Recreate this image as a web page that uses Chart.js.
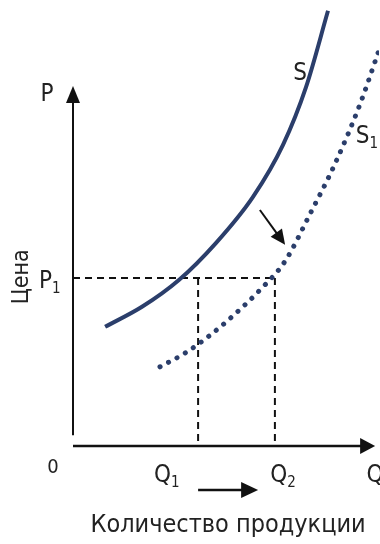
<!DOCTYPE html>
<html>
<head>
<meta charset="utf-8">
<script src="https://cdn.jsdelivr.net/npm/chart.js@4"></script>
<style>
  html, body { margin: 0; padding: 0; background: #fff; }
  #wrap { width: 380px; height: 544px; }
</style>
</head>
<body>
<div id="wrap"><canvas id="myChart"></canvas></div>
<script>
const ctx = document.getElementById('myChart').getContext('2d');

// Supply curve S (quantity, price)
const sQ = [1.07, 2.3, 3.53, 4.77, 6.0, 7.0, 7.77, 8.5];
const sP = [2.98, 3.48, 4.15, 5.08, 6.23, 7.53, 8.98, 10.88];

// Shifted supply curve S1
const s1Q = [2.9, 3.73, 4.57, 5.4, 6.23, 7.07, 7.9, 8.73, 9.57, 10.17];
const s1P = [1.98, 2.32, 2.77, 3.3, 3.9, 4.62, 5.8, 7.05, 8.55, 9.83];

// Price level P1 and the two quantities
const p1 = 4.2;
const q1 = 4.17;
const q2 = 6.73;

// Axis ends (arrow tips)
const qAxisEnd = 10.07;
const pAxisEnd = 9.0;

// Arrows: [fromQ, fromP, toQ, toP]
const shiftArrow = [6.23, 5.9, 7.07, 5.03];
const qArrow = [4.17, -1.1, 6.17, -1.1];

// Text labels: text, subscript, q, p
const labelText = ['P', 'P', '0', 'Q', 'Q', 'Q', 'S', 'S'];
const labelSub = ['', '1', '', '1', '2', '', '', '1'];
const labelQ = [-0.87, -0.77, -0.67, 3.13, 7.0, 10.07, 7.57, 9.8];
const labelP = [8.78, 4.1, -0.55, -0.75, -0.75, -0.75, 9.3, 7.73];

const priceTitle = 'Цена';
const qtyTitle = 'Количество продукции';

const navy = '#2b3e6b';
const FONT = '"DejaVu Sans Condensed", "Liberation Sans Narrow", sans-serif';

const toXY = (qs, ps) => qs.map((q, i) => ({ x: q, y: ps[i] }));

function arrow(c, x1, y1, x2, y2, len, half) {
    const a = Math.atan2(y2 - y1, x2 - x1);
    c.beginPath();
    c.moveTo(x1, y1);
    c.lineTo(x2 - Math.cos(a) * len * 0.8, y2 - Math.sin(a) * len * 0.8);
    c.stroke();
    c.beginPath();
    c.moveTo(x2, y2);
    c.lineTo(x2 - Math.cos(a) * len - Math.sin(a) * half, y2 - Math.sin(a) * len + Math.cos(a) * half);
    c.lineTo(x2 - Math.cos(a) * len + Math.sin(a) * half, y2 - Math.sin(a) * len - Math.cos(a) * half);
    c.closePath();
    c.fill();
}

// axes, arrows and labels drawn through the chart scales
const sketchPlugin = {
    id: 'sketch',
    beforeDatasetsDraw(chart) {
        const c = chart.ctx;
        const xs = chart.scales.x, ys = chart.scales.y;
        c.save();
        c.strokeStyle = '#111';
        c.fillStyle = '#111';
        c.lineWidth = 2.5;
        arrow(c, xs.getPixelForValue(0), ys.getPixelForValue(0), xs.getPixelForValue(qAxisEnd), ys.getPixelForValue(0), 15, 8);
        c.lineWidth = 2;
        arrow(c, xs.getPixelForValue(0), ys.getPixelForValue(0.27), xs.getPixelForValue(0), ys.getPixelForValue(pAxisEnd), 17, 7);
        c.restore();
    },
    afterDatasetsDraw(chart) {
        const c = chart.ctx;
        const xs = chart.scales.x, ys = chart.scales.y;
        const px = q => xs.getPixelForValue(q), py = p => ys.getPixelForValue(p);
        c.save();
        c.strokeStyle = '#111';
        c.fillStyle = '#111';
        c.lineWidth = 2;
        arrow(c, px(shiftArrow[0]), py(shiftArrow[1]), px(shiftArrow[2]), py(shiftArrow[3]), 15, 7);
        c.lineWidth = 2.5;
        arrow(c, px(qArrow[0]), py(qArrow[1]), px(qArrow[2]), py(qArrow[3]), 17, 8);

        c.fillStyle = '#222';
        c.textBaseline = 'middle';
        labelText.forEach((t, i) => {
            const big = t === '0' ? 20 : 24;
            c.font = big + 'px ' + FONT;
            const w = c.measureText(t).width;
            const sub = labelSub[i];
            c.font = '15px ' + FONT;
            const ws = sub ? c.measureText(sub).width : 0;
            const x0 = px(labelQ[i]) - (w + ws) / 2;
            const y0 = py(labelP[i]);
            c.font = big + 'px ' + FONT;
            c.textAlign = 'left';
            c.fillText(t, x0, y0);
            if (sub) {
                c.font = '15px ' + FONT;
                c.fillText(sub, x0 + w, y0 + 7);
            }
        });

        c.textAlign = 'center';
        c.font = '25px ' + FONT;
        c.fillText(qtyTitle, px(5.17), py(-1.98));

        c.translate(px(-1.7), py(4.23));
        c.rotate(-Math.PI / 2);
        c.font = '23px ' + FONT;
        c.fillText(priceTitle, 0, 0);
        c.restore();
    }
};

const data = {
    datasets: [
        {
            label: 'S',
            data: toXY(sQ, sP),
            borderColor: navy,
            borderWidth: 4,
            cubicInterpolationMode: 'monotone',
            pointRadius: 0
        },
        {
            label: 'S1',
            data: toXY(s1Q, s1P),
            borderColor: navy,
            borderWidth: 5,
            borderDash: [0.1, 9.5],
            borderCapStyle: 'round',
            cubicInterpolationMode: 'monotone',
            pointRadius: 0
        },
        {
            label: 'P1',
            data: [{ x: 0, y: p1 }, { x: q2, y: p1 }],
            borderColor: '#111',
            borderWidth: 2,
            borderDash: [7, 5],
            pointRadius: 0
        },
        {
            label: 'Q1',
            data: [{ x: q1, y: p1 }, { x: q1, y: 0 }],
            borderColor: '#111',
            borderWidth: 2,
            borderDash: [7, 5],
            pointRadius: 0
        },
        {
            label: 'Q2',
            data: [{ x: q2, y: p1 }, { x: q2, y: 0 }],
            borderColor: '#111',
            borderWidth: 2,
            borderDash: [7, 5],
            pointRadius: 0
        }
    ]
};

const options = {
    responsive: true,
    maintainAspectRatio: false,
    animation: false,
    layout: {
        padding: { left: 73, right: 1, top: 6, bottom: 98 }
    },
    plugins: {
        legend: { display: false },
        tooltip: { enabled: false }
    },
    elements: {
        line: { fill: false }
    },
    scales: {
        x: { type: 'linear', min: 0, max: 10.2, display: false },
        y: { type: 'linear', min: 0, max: 11, display: false }
    }
};

const myChart = new Chart(ctx, {
    type: 'line',
    data: data,
    options: options,
    plugins: [sketchPlugin]
});
</script>
</body>
</html>
